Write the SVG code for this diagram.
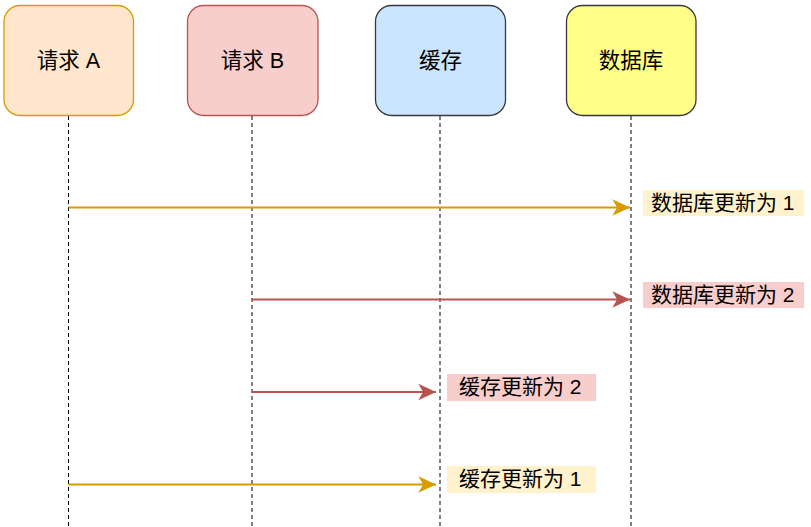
<svg xmlns="http://www.w3.org/2000/svg" width="811" height="527" viewBox="0 0 811 527">
<style>
.box{stroke-width:1.3}
.t{font-family:"Liberation Sans","Noto Sans CJK SC",sans-serif;fill:#000;dominant-baseline:central}
.bt{font-size:21.5px;text-anchor:middle}
.lt{font-size:21px}
.life{stroke:#000;stroke-width:1;stroke-dasharray:4 3;fill:none}
.ao{stroke:#d79b00;stroke-width:2;fill:none}
.ar{stroke:#b85450;stroke-width:2;fill:none}
</style>
<defs>
<marker id="mo" markerUnits="userSpaceOnUse" markerWidth="20" markerHeight="20" viewBox="-16 -8 17 16" refX="0" refY="0" orient="auto">
<path d="M0,0 L-15,-7 L-11,0 L-15,7 Z" fill="#d79b00"/>
</marker>
<marker id="mr" markerUnits="userSpaceOnUse" markerWidth="20" markerHeight="20" viewBox="-16 -8 17 16" refX="0" refY="0" orient="auto">
<path d="M0,0 L-15,-7 L-11,0 L-15,7 Z" fill="#b85450"/>
</marker>
</defs>
<rect width="811" height="527" fill="#fff"/>
<g id="lifelines">
<line class="life" x1="68.5" y1="116" x2="68.5" y2="527"/>
<line class="life" x1="252" y1="116" x2="252" y2="527"/>
<line class="life" x1="440" y1="116" x2="440" y2="527"/>
<line class="life" x1="631" y1="116" x2="631" y2="527"/>
</g>
<g id="reqA">
<rect class="box" x="4" y="5.5" width="129.5" height="110" rx="16" fill="#ffe6cc" stroke="#d79b00"/>
<text class="t bt" x="68.5" y="60.5">请求 A</text>
</g>
<g id="reqB">
<rect class="box" x="187.5" y="5.5" width="130.5" height="110" rx="16" fill="#f8cecc" stroke="#b85450"/>
<text class="t bt" x="252.5" y="60.5">请求 B</text>
</g>
<g id="cache">
<rect class="box" x="375.5" y="5.5" width="130" height="110" rx="16" fill="#cce5ff" stroke="#36393d"/>
<text class="t bt" x="440.5" y="60.5">缓存</text>
</g>
<g id="db">
<rect class="box" x="566.5" y="5.5" width="129.5" height="110" rx="16" fill="#ffff88" stroke="#36393d"/>
<text class="t bt" x="631" y="60.5">数据库</text>
</g>
<g id="connectors">
<line class="ao" x1="68.5" y1="207.5" x2="630" y2="207.5" marker-end="url(#mo)"/>
<line class="ar" x1="252" y1="299.5" x2="630" y2="299.5" marker-end="url(#mr)"/>
<line class="ar" x1="252" y1="392" x2="436" y2="392" marker-end="url(#mr)"/>
<line class="ao" x1="68.5" y1="484.5" x2="436" y2="484.5" marker-end="url(#mo)"/>
</g>
<g id="label1">
<rect x="643" y="190" width="161" height="26" fill="#fff2cc"/>
<text class="t lt" x="651" y="202">数据库更新为 1</text>
</g>
<g id="label2">
<rect x="643" y="282" width="161" height="26" fill="#f8cecc"/>
<text class="t lt" x="651" y="294">数据库更新为 2</text>
</g>
<g id="label3">
<rect x="447" y="374" width="149" height="27" fill="#f8cecc"/>
<text class="t lt" x="459" y="386.5">缓存更新为 2</text>
</g>
<g id="label4">
<rect x="447" y="466" width="149" height="27" fill="#fff2cc"/>
<text class="t lt" x="459" y="478.5">缓存更新为 1</text>
</g>
</svg>
